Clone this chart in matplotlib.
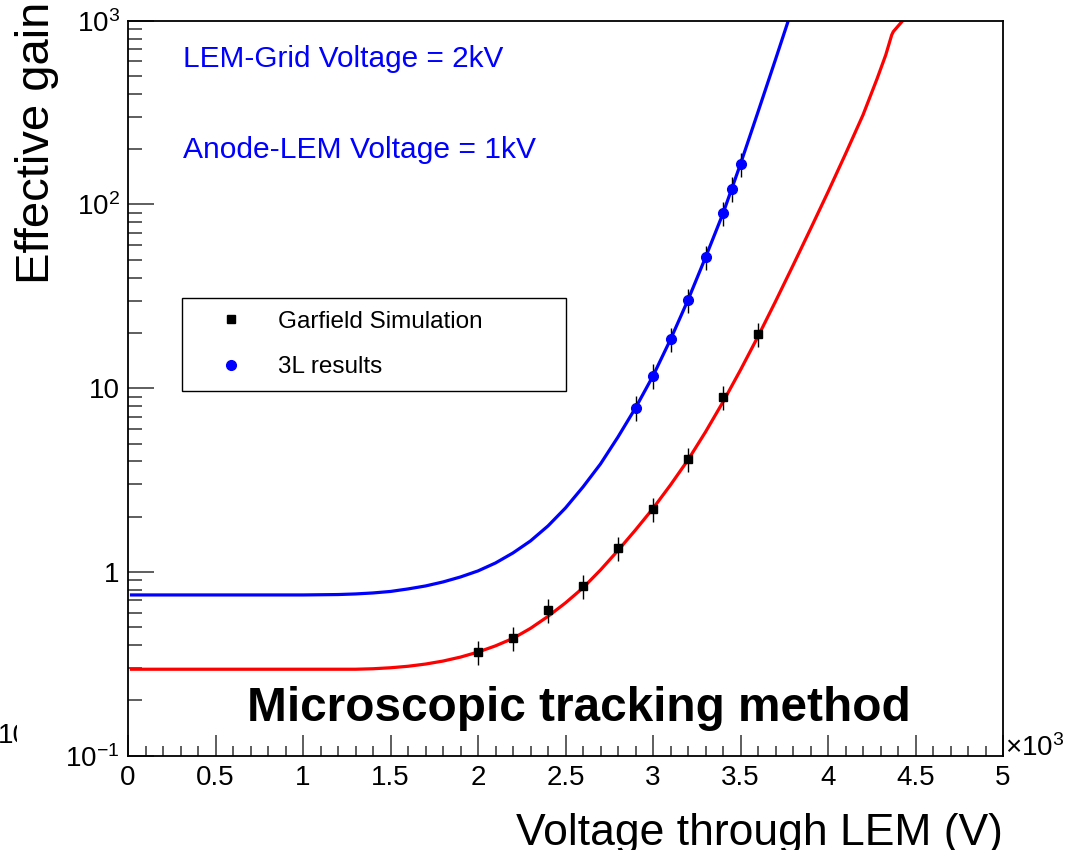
import matplotlib
matplotlib.use("Agg")
import matplotlib.pyplot as plt
from matplotlib.ticker import FixedLocator, FixedFormatter, MultipleLocator, FuncFormatter
from matplotlib.patches import Rectangle

plt.rcParams["font.family"] = ["Liberation Sans", "DejaVu Sans"]
plt.rcParams["mathtext.fontset"] = "custom"
plt.rcParams["mathtext.rm"] = "Liberation Sans"
plt.rcParams["mathtext.it"] = "Liberation Sans:italic"
plt.rcParams["mathtext.bf"] = "Liberation Sans:bold"

# ---- data (voltage in V, effective gain) ----
garfield_v = [2000, 2200, 2400, 2600, 2800, 3000, 3200, 3400, 3600]
garfield_gain = [0.367, 0.437, 0.621, 0.839, 1.35, 2.20, 4.12, 8.96, 19.7]
garfield_err = [0.055, 0.066, 0.093, 0.126, 0.20, 0.33, 0.62, 1.34, 2.96]

results_v = [2900, 3000, 3100, 3200, 3300, 3400, 3450, 3500]
results_gain = [7.84, 11.7, 18.5, 30.2, 51.6, 89.6, 122, 166]
results_err = [1.18, 1.76, 2.78, 4.5, 7.7, 13.4, 18.3, 25.0]

# fitted gain curves
fit_red_v = [20, 500, 1000, 1300, 1400, 1500, 1600, 1700, 1800, 1900, 2000,
             2100, 2200, 2300, 2400, 2500, 2600, 2700, 2800, 2900, 3000, 3100,
             3200, 3300, 3400, 3500, 3600, 3700, 3800, 3900, 4000, 4100, 4200,
             4280, 4330, 4364, 4373, 4427]
fit_red_gain = [0.2955, 0.2955, 0.2955, 0.2955, 0.2973, 0.3010, 0.3067, 0.3153,
                0.3274, 0.3441, 0.3665, 0.3961, 0.4350, 0.4932, 0.5731, 0.6788,
                0.8194, 1.025, 1.309, 1.693, 2.216, 2.975, 4.070, 5.779, 8.418,
                12.57, 19.12, 29.66, 46.56, 73.57, 116.9, 188.3, 307.0, 482.0,
                651.0, 836.3, 871.7, 1000]

fit_blue_v = [20, 500, 1000, 1200, 1300, 1400, 1500, 1600, 1700, 1800, 1900,
              2000, 2100, 2200, 2300, 2400, 2500, 2600, 2700, 2800, 2900, 3000,
              3100, 3200, 3300, 3400, 3500, 3600, 3700, 3773]
fit_blue_gain = [0.7496, 0.7496, 0.7496, 0.7534, 0.7591, 0.7686, 0.7832, 0.8083,
                 0.8390, 0.8822, 0.9392, 1.013, 1.119, 1.269, 1.475, 1.780, 2.230,
                 2.901, 3.871, 5.428, 7.807, 11.66, 18.42, 30.21, 51.47, 89.34,
                 166.1, 318.7, 615.2, 1000]

y_ticks = [0.1, 1, 10, 100, 1000]
y_tick_labels = [r"$10^{-1}$", "1", "10", r"$10^{2}$", r"$10^{3}$"]

W, H = 1079, 850
fig = plt.figure(figsize=(W / 100, H / 100), dpi=100)


def fx(x):
    return x / W


def fy(y):
    return (H - y) / H


ax = fig.add_axes([fx(128), fy(755.7), (1003 - 128) / W, (755.7 - 20.7) / H])
ax.set_yscale("log")
ax.set_xlim(0, 5000)
ax.set_ylim(0.1, 1000)

# curves
ax.plot(fit_red_v, fit_red_gain, color="#ff0000", lw=2.3, zorder=2,
        solid_joinstyle="round")
ax.plot(fit_blue_v, fit_blue_gain, color="#0000ff", lw=2.3, zorder=2,
        solid_joinstyle="round")

# data with error bars
ax.errorbar(garfield_v, garfield_gain, yerr=garfield_err, fmt="none",
            ecolor="black", elinewidth=1.0, capsize=0, zorder=3)
ax.errorbar(results_v, results_gain, yerr=results_err, fmt="none",
            ecolor="black", elinewidth=1.0, capsize=0, zorder=3)
h_sim, = ax.plot(garfield_v, garfield_gain, "s", color="black", ms=6,
                 mec="black", ls="none", zorder=4, label="Garfield Simulation")
h_res, = ax.plot(results_v, results_gain, "o", color="#0000ff", ms=7,
                 mec="#0000ff", ls="none", zorder=4, label="3L results")

# axes styling
for sp in ax.spines.values():
    sp.set_linewidth(1.3)
    sp.set_color("black")

ax.xaxis.set_major_locator(MultipleLocator(500))
ax.xaxis.set_minor_locator(MultipleLocator(100))
ax.xaxis.set_major_formatter(FuncFormatter(lambda v, p: f"{v / 1000:g}"))
ax.yaxis.set_major_locator(FixedLocator(y_ticks))
ax.yaxis.set_major_formatter(FixedFormatter(y_tick_labels))
ax.tick_params(axis="both", which="both", direction="in", top=False, right=False,
               color="#333333", width=1.1, labelsize=20)
ax.tick_params(axis="x", which="major", length=15, pad=7)
ax.tick_params(axis="x", which="minor", length=7.5)
ax.tick_params(axis="y", which="major", length=19, pad=6)
ax.tick_params(axis="y", which="minor", length=10)

# legend
x0 = (182 - 128) / 875
x1 = (566 - 128) / 875
ytop = (755.7 - 298) / 735
leg = ax.legend(handles=[h_sim, h_res], loc="upper left",
                bbox_to_anchor=(x0, ytop - 0.2, x1 - x0, 0.2), mode="expand",
                borderaxespad=0, fontsize=17.5, frameon=True, fancybox=False,
                framealpha=1, edgecolor="black", borderpad=0.52,
                labelspacing=0.97, handlelength=3.0, handletextpad=0.42)
leg.get_frame().set_linewidth(1.0)

# annotations
fig.text(fx(183), fy(67), "LEM-Grid Voltage = 2kV", color="#0000ff",
         fontsize=21.4, ha="left", va="baseline")
fig.text(fx(183), fy(158), "Anode-LEM Voltage = 1kV", color="#0000ff",
         fontsize=21.6, ha="left", va="baseline")
fig.text(fx(247), fy(721), "Microscopic tracking method", color="black",
         fontsize=34.4, fontweight="bold", ha="left", va="baseline")

# axis titles
fig.text(fx(37), fy(143), "Effective gain", rotation=90, fontsize=34,
         ha="center", va="center")
fig.text(fx(1003), fy(845), "Voltage through LEM (V)", fontsize=32,
         ha="right", va="baseline")
fig.text(fx(1005), fy(756), r"$\times10^{3}$", fontsize=20,
         ha="left", va="baseline")

# partial label at the far left edge
fig.text(fx(-2), fy(743), "10", fontsize=20, ha="left", va="baseline")
fig.add_artist(Rectangle((fx(16.5), fy(760)), 40 / W, 45 / H,
                         transform=fig.transFigure, facecolor="white",
                         edgecolor="none", zorder=10))

fig.savefig("out.png", dpi=100)
